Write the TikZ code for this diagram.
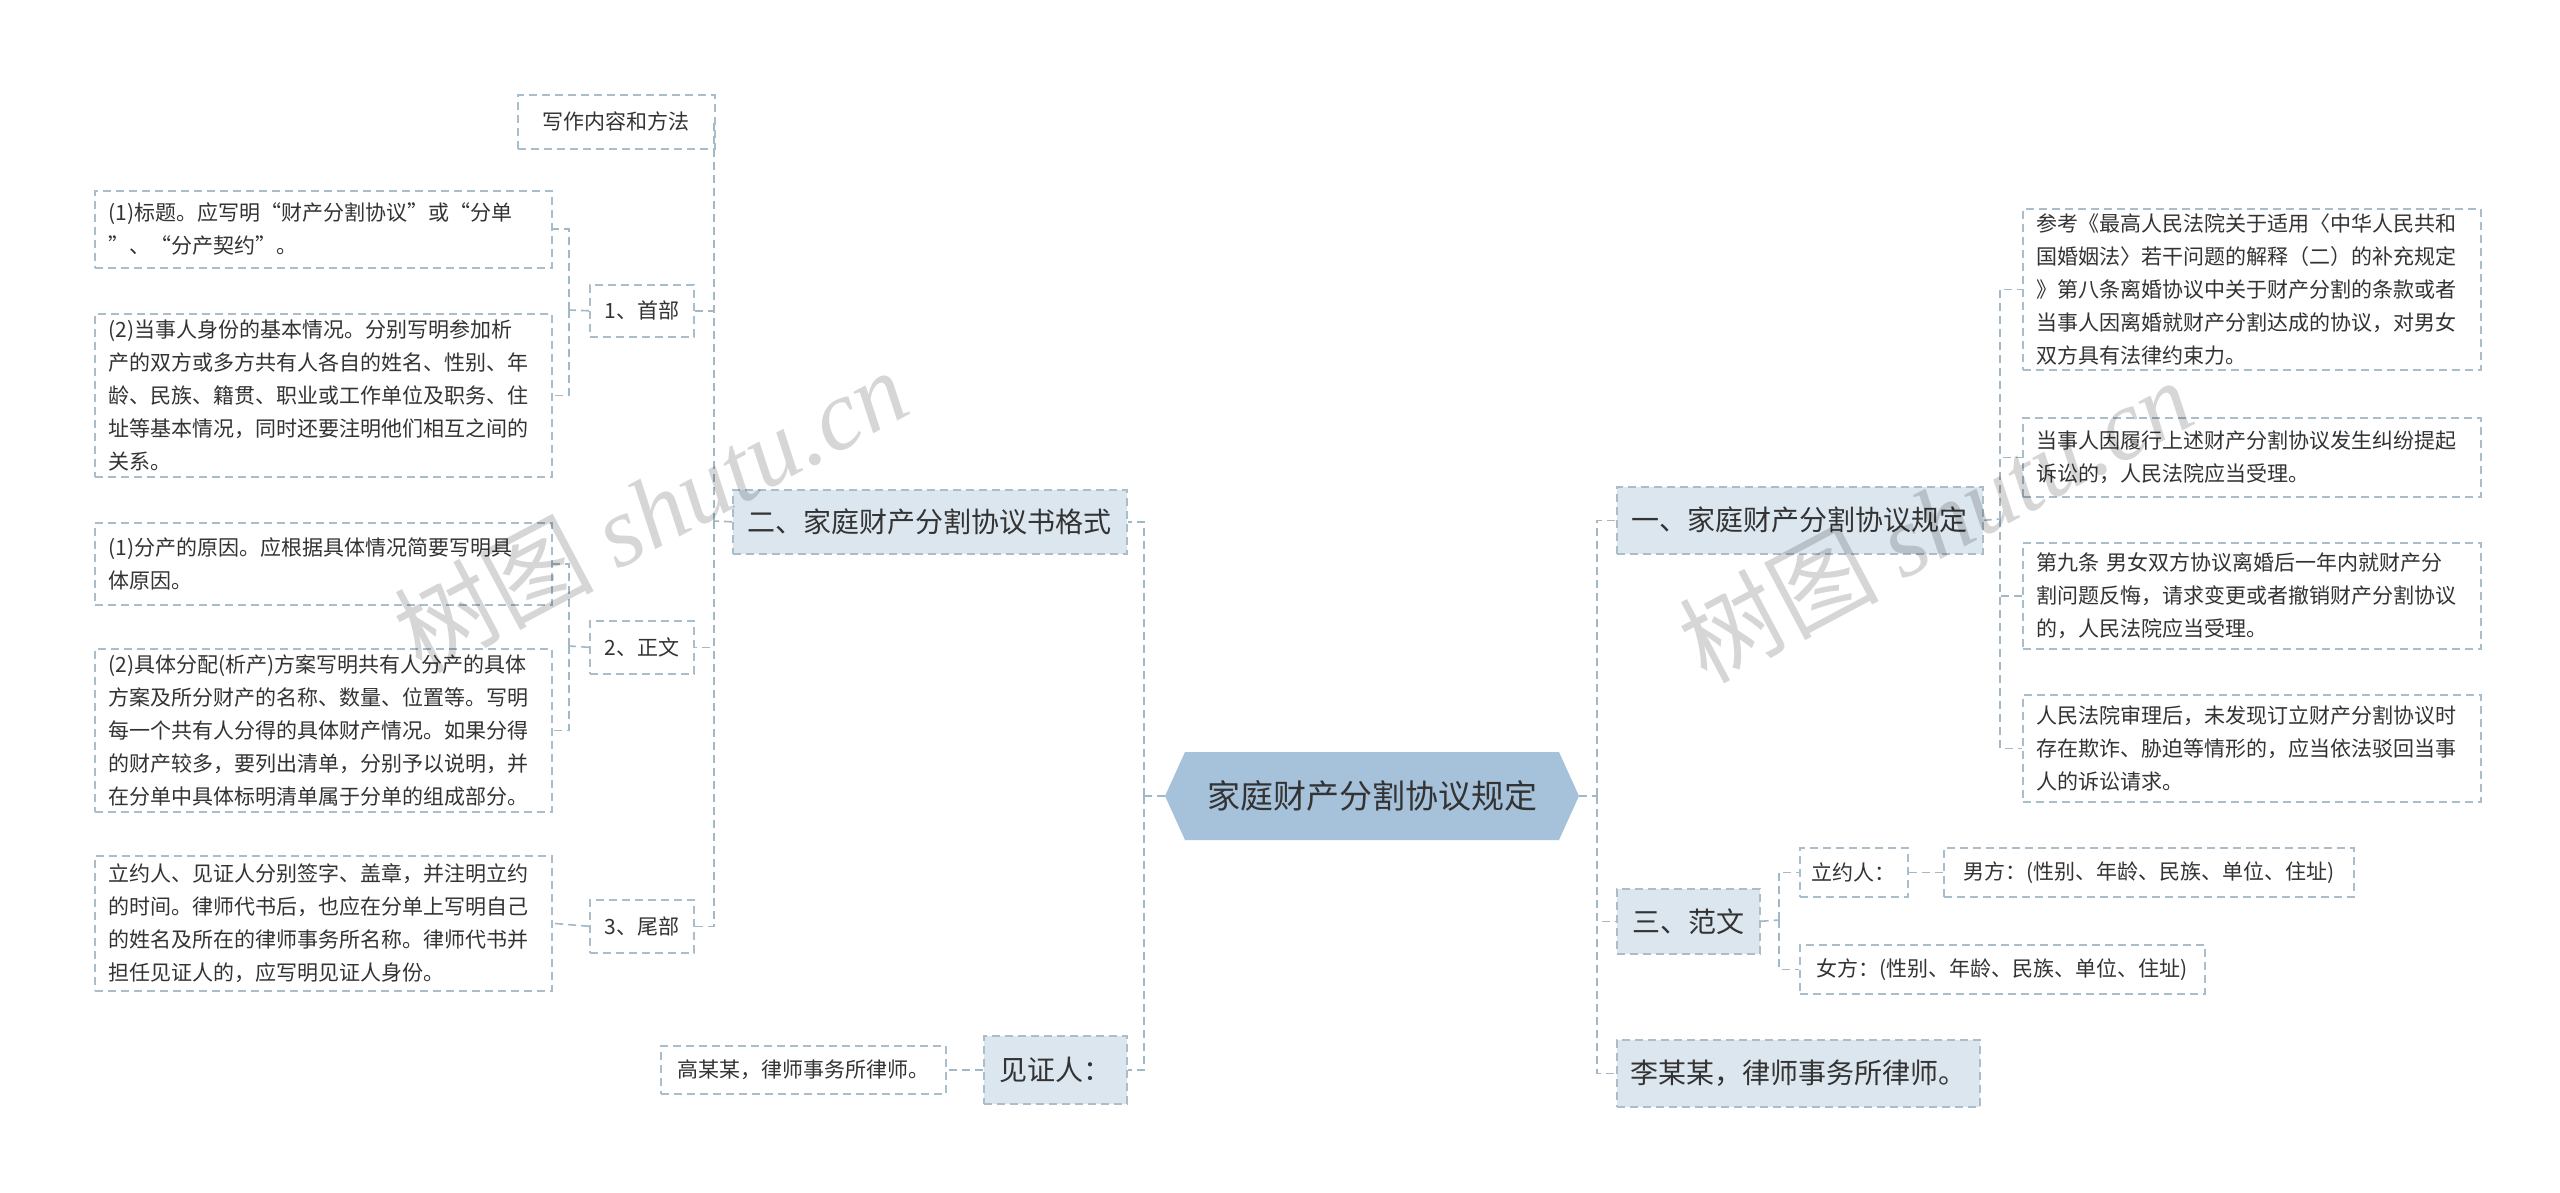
\documentclass[tikz,border=0pt]{standalone}
\usepackage{fontspec}
\setmainfont{Noto Sans CJK SC}
\newfontfamily\wmlat{Liberation Serif}
\definecolor{bd}{HTML}{A9BDCB}
\definecolor{ln}{HTML}{A3B8C6}
\definecolor{mainf}{HTML}{A6C1DA}
\definecolor{l1f}{HTML}{DCE6EE}
\definecolor{tx}{HTML}{333333}
\tikzset{
 conn/.style={draw=ln,line width=1.6pt,dash pattern=on 8pt off 5pt},
 box/.style={draw=bd,line width=1.6pt,dash pattern=on 8pt off 5pt,anchor=north west,inner sep=0pt,text=tx},
 tbox/.style={box,font=\fontsize{21}{33}\selectfont,align=left},
 lone/.style={box,fill=l1f,font=\fontsize{28}{34}\selectfont},
 wm/.style={text=black,opacity=0.16,font=\fontsize{100}{100}\selectfont,rotate=28}
}
\newcommand{\tb}[6]{\node[tbox,minimum width=#3,minimum height=#4,text width=#3-28] (#1) at (#2) {#5};}
\begin{document}
\begin{tikzpicture}[x=1pt,y=-1pt]
\useasboundingbox[fill=white] (0,0) rectangle (2560,1193);
% center
\fill[mainf] (1165,796)--(1185,752)--(1559,752)--(1579,796)--(1559,840)--(1185,840)--cycle;
\node[text=tx,font=\fontsize{33}{40}\selectfont] (c) at (1372,796) {家庭财产分割协议规定};
\coordinate (cw) at (1165,796);
\coordinate (ce) at (1579,796);
% level 1 left
\node[lone,minimum width=394,minimum height=64] (l2) at (732,489) {二、家庭财产分割协议书格式};
\node[lone,minimum width=143,minimum height=68] (wit) at (983,1035) {见证人：};
\node[tbox,minimum width=285,minimum height=48] (gao) at (660,1045) {高某某，律师事务所律师。};
% level 2 left
\node[tbox,minimum width=197,minimum height=54] (xz) at (517,94) {写作内容和方法};
\node[tbox,minimum width=104,minimum height=52] (s1) at (589,284) {1、首部};
\node[tbox,minimum width=104,minimum height=53] (s2) at (589,620) {2、正文};
\node[tbox,minimum width=104,minimum height=53] (s3) at (589,899) {3、尾部};
\tb{a1}{94,190}{457}{77}{(1)标题。应写明“财产分割协议”或“分单\\”、“分产契约”。}{}
\tb{a2}{94,313}{457}{163}{(2)当事人身份的基本情况。分别写明参加析\\产的双方或多方共有人各自的姓名、性别、年\\龄、民族、籍贯、职业或工作单位及职务、住\\址等基本情况，同时还要注明他们相互之间的\\关系。}{}
\tb{b1}{94,522}{457}{82}{(1)分产的原因。应根据具体情况简要写明具\\体原因。}{}
\tb{b2}{94,648}{457}{163}{(2)具体分配(析产)方案写明共有人分产的具体\\方案及所分财产的名称、数量、位置等。写明\\每一个共有人分得的具体财产情况。如果分得\\的财产较多，要列出清单，分别予以说明，并\\在分单中具体标明清单属于分单的组成部分。}{}
\tb{d1}{94,855}{457}{135}{立约人、见证人分别签字、盖章，并注明立约\\的时间。律师代书后，也应在分单上写明自己\\的姓名及所在的律师事务所名称。律师代书并\\担任见证人的，应写明见证人身份。}{}
% right level 1
\node[lone,minimum width=366,minimum height=67] (r1) at (1616,486) {一、家庭财产分割协议规定};
\node[lone,minimum width=143,minimum height=65] (r3) at (1616,888) {三、范文};
\node[lone,minimum width=363,minimum height=67] (li) at (1616,1039) {李某某，律师事务所律师。};
\tb{p1}{2022,208}{458}{161}{参考《最高人民法院关于适用〈中华人民共和\\国婚姻法〉若干问题的解释（二）的补充规定\\》第八条离婚协议中关于财产分割的条款或者\\当事人因离婚就财产分割达成的协议，对男女\\双方具有法律约束力。}{}
\tb{p2}{2022,417}{458}{79}{当事人因履行上述财产分割协议发生纠纷提起\\诉讼的，人民法院应当受理。}{}
\tb{p3}{2022,542}{458}{106}{第九条 男女双方协议离婚后一年内就财产分\\割问题反悔，请求变更或者撤销财产分割协议\\的，人民法院应当受理。}{}
\tb{p4}{2022,694}{458}{107}{人民法院审理后，未发现订立财产分割协议时\\存在欺诈、胁迫等情形的，应当依法驳回当事\\人的诉讼请求。}{}
\node[tbox,minimum width=108,minimum height=49] (ly) at (1799,847) {立约人：};
\node[tbox,minimum width=410,minimum height=49] (nan) at (1943,847) {男方：(性别、年龄、民族、单位、住址)};
\node[tbox,minimum width=405,minimum height=49] (nv) at (1799,944) {女方：(性别、年龄、民族、单位、住址)};
% connectors left
\draw[conn] (cw) -- (1144,796);
\draw[conn] (1144,796) |- (l2.east);
\draw[conn] (1144,796) |- (wit.east);
\draw[conn] (wit.west) -- (gao.east);
\draw[conn] (l2.west) -- (714,521);
\draw[conn] (714,521) |- (xz.east);
\draw[conn] (714,521) |- (s1.east);
\draw[conn] (714,521) |- (s2.east);
\draw[conn] (714,521) |- (s3.east);
\draw[conn] (s1.west) -- (569,310);
\draw[conn] (569,310) |- (a1.east);
\draw[conn] (569,310) |- (a2.east);
\draw[conn] (s2.west) -- (569,646);
\draw[conn] (569,646) |- (b1.east);
\draw[conn] (569,646) |- (b2.east);
\draw[conn] (s3.west) -- (d1.east);
% connectors right
\draw[conn] (ce) -- (1597,796);
\draw[conn] (1597,796) |- (r1.west);
\draw[conn] (1597,796) |- (r3.west);
\draw[conn] (1597,796) |- (li.west);
\draw[conn] (r1.east) -- (2000,519);
\draw[conn] (2000,519) |- (p1.west);
\draw[conn] (2000,519) |- (p2.west);
\draw[conn] (2000,519) |- (p3.west);
\draw[conn] (2000,519) |- (p4.west);
\draw[conn] (r3.east) -- (1779,920);
\draw[conn] (1779,920) |- (ly.west);
\draw[conn] (1779,920) |- (nv.west);
\draw[conn] (ly.east) -- (nan.west);
% watermarks
\node[wm] (w1) at (650,510) {树图 {\wmlat\itshape shutu.cn}};
\node[wm] (w2) at (1935,520) {树图 {\wmlat\itshape shutu.cn}};
\end{tikzpicture}
\end{document}
